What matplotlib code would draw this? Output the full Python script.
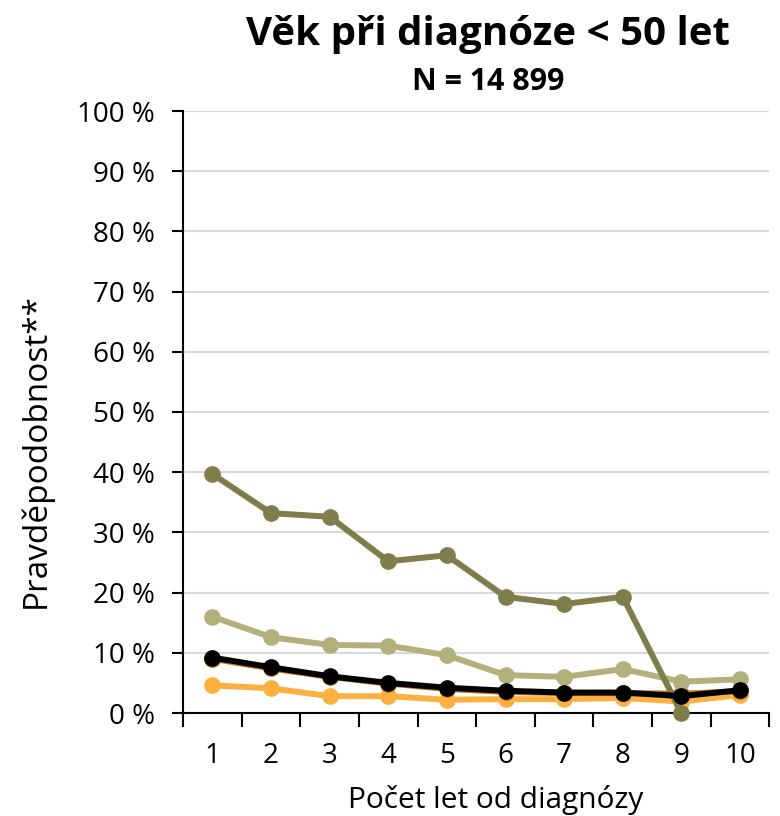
import matplotlib.pyplot as plt
from matplotlib.ticker import FixedLocator, FuncFormatter
import numpy as np

plt.rcParams["font.family"] = ["Open Sans", "DejaVu Sans"]

years = [1, 2, 3, 4, 5, 6, 7, 8, 9, 10]

# series values in %
olive_dark = [39.7, 33.2, 32.6, 25.2, 26.2, 19.3, 18.1, 19.3, 0.0, np.nan]
olive_light = [16.0, 12.6, 11.3, 11.2, 9.6, 6.3, 6.0, 7.3, 5.2, 5.6]
orange_light = [4.6, 4.1, 2.8, 2.8, 2.2, 2.3, 2.3, 2.5, 1.9, 3.0]
orange_dark = [9.0, 7.4, 6.0, 4.9, 4.0, 3.5, 3.3, 3.3, 3.2, 3.6]
black_line = [9.2, 7.6, 6.1, 5.0, 4.2, 3.7, 3.4, 3.4, 2.8, 3.8]

fig = plt.figure(figsize=(7.8, 8.16), dpi=100)
ax = fig.add_axes([183 / 780, 1 - 713 / 816, (769.4 - 183) / 780, (713 - 111) / 816])

series = [
    (orange_light, "#fbb040"),
    (orange_dark, "#c8780f"),
    (olive_light, "#b3b07c"),
    (olive_dark, "#7f7d4a"),
    (black_line, "#000000"),
]
for vals, color in series:
    ax.plot(years, vals, color=color, lw=4.3, marker="o", ms=11,
            solid_capstyle="round", clip_on=False, zorder=3)

ax.set_xlim(0.5, 10.5)
ax.set_ylim(0, 100)
ax.set_yticks(np.arange(0, 101, 10))
ax.yaxis.set_major_formatter(FuncFormatter(lambda v, p: f"{int(v)} %"))
ax.grid(axis="y", color="#d9d9d9", lw=1.5, zorder=0)
ax.set_axisbelow(True)

ax.xaxis.set_major_locator(FixedLocator(np.arange(0.5, 10.6, 1)))
ax.xaxis.set_major_formatter(FuncFormatter(lambda v, p: ""))
ax.xaxis.set_minor_locator(FixedLocator(years))
ax.xaxis.set_minor_formatter(FuncFormatter(lambda v, p: f"{int(v)}"))
ax.tick_params(axis="x", which="major", length=10, width=1.5, direction="out")
ax.tick_params(axis="x", which="minor", length=0, labelsize=20, pad=21)
ax.tick_params(axis="y", length=8, width=1.5, labelsize=20, pad=12)

for s in ["top", "right"]:
    ax.spines[s].set_visible(False)
for s in ["left", "bottom"]:
    ax.spines[s].set_linewidth(1.5)
    ax.spines[s].set_color("black")

fig.text(36 / 780, 1 - 450 / 816, "Pravděpodobnost**", rotation=90, ha="center",
         va="center", fontsize=24)
fig.text(496 / 780, 1 - 800 / 816, "Počet let od diagnózy", ha="center", va="center",
         fontsize=21.5)

fig.text(488 / 780, 1 - 35 / 816, "Věk při diagnóze < 50 let", ha="center", va="center",
         fontsize=29, fontweight="bold")
fig.text(488 / 780, 1 - 82 / 816, "N = 14 899", ha="center", va="center",
         fontsize=22, fontweight="bold")

fig.savefig("out.png", dpi=100)
